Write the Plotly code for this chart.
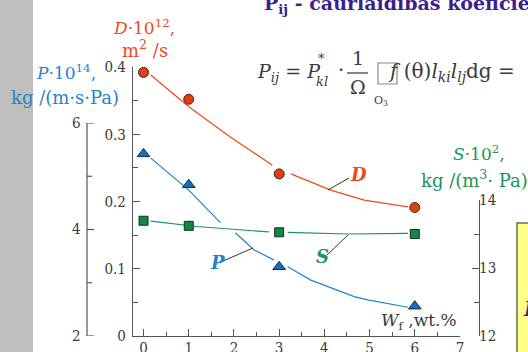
import plotly.graph_objects as go

# ---- data -------------------------------------------------------------
wf = [0, 1, 3, 6]                       # W_f, wt.%
d_vals = [0.392, 0.352, 0.241, 0.191]   # D*10^12, m^2/s
p_vals = [5.42, 4.84, 3.30, 2.56]       # P*10^14, kg/(m s Pa)
s_vals = [13.695, 13.62, 13.525, 13.50] # S*10^2, kg/(m^3 Pa)

# smoothed trend curves (None = break in the line)
d_curve_x = [0.16, 1.0, 1.92, 2.85, None, 3.26, 4.14, 4.88, 5.85]
d_curve_y = [0.388, 0.341, 0.296, 0.254, None, 0.241, 0.217, 0.202, 0.192]
p_curve_x = [0.16, 1.0, 1.70, None, 2.03, 2.44, 2.88, None, 3.19, 3.70, 4.66, 4.96, 5.85]
p_curve_y = [5.34, 4.74, 4.13, None, 3.94, 3.62, 3.43, None, 3.30, 3.05, 2.74, 2.68, 2.54]
s_curve_x = [0.16, 1.18, 2.77, None, 3.19, 4.5, 5.85]
s_curve_y = [13.69, 13.61, 13.53, None, 13.525, 13.50, 13.51]

# P axis ticks (drawn by hand on a free-standing spine)
p_major = [2, 4, 6]
p_minor = [3, 5]

W, H = 528, 352
RED, BLUE, GREEN = "#ee4a1c", "#1f84cc", "#17955a"
AXC, TXT = "#555555", "#3a3a3a"
SERIF = "DejaVu Serif"
SERIF_C = "DejaVu Serif Condensed"


def px(x):
    return x / W


def py(y):
    return 1 - y / H


fig = go.Figure()

# curves
fig.add_trace(go.Scatter(x=d_curve_x, y=d_curve_y, mode="lines", yaxis="y",
                         line=dict(color=RED, width=1.2), connectgaps=False))
fig.add_trace(go.Scatter(x=p_curve_x, y=p_curve_y, mode="lines", yaxis="y2",
                         line=dict(color=BLUE, width=1.2), connectgaps=False))
fig.add_trace(go.Scatter(x=s_curve_x, y=s_curve_y, mode="lines", yaxis="y3",
                         line=dict(color=GREEN, width=1.2), connectgaps=False))

# markers
fig.add_trace(go.Scatter(x=wf, y=d_vals, mode="markers", yaxis="y",
                         marker=dict(symbol="circle", size=10, color="#e33d10",
                                     line=dict(color="#3a2a20", width=1))))
fig.add_trace(go.Scatter(x=wf, y=p_vals, mode="markers", yaxis="y2",
                         marker=dict(symbol="triangle-up", size=11, color="#136fc0",
                                     line=dict(color="#1a2a3a", width=1))))
fig.add_trace(go.Scatter(x=wf, y=s_vals, mode="markers", yaxis="y3",
                         marker=dict(symbol="square", size=9, color="#0b8a45",
                                     line=dict(color="#1a2a20", width=1))))

tickfont = dict(family=SERIF_C, size=15, color=TXT)
y_bottom = py(336)
common = dict(showgrid=False, zeroline=False, showline=True, linewidth=1.2, linecolor=AXC,
              ticks="inside", ticklen=7, tickcolor=AXC, tickwidth=1.2, tickfont=tickfont,
              automargin=False)

fig.update_layout(
    width=W, height=H,
    margin=dict(l=0, r=0, t=0, b=0, autoexpand=False),
    paper_bgcolor="white", plot_bgcolor="rgba(0,0,0,0)",
    showlegend=False,
    font=dict(family=SERIF),
    xaxis=dict(domain=[px(133), px(460)], range=[-0.233, 7.0], anchor="y",
               dtick=1, tick0=0,
               minor=dict(dtick=0.5, ticks="inside", ticklen=4, tickcolor=AXC, tickwidth=1.2),
               ticklabelstandoff=-2, **common),
    yaxis=dict(domain=[y_bottom, py(67)], range=[0, 0.4], anchor="x",
               tickvals=[0, 0.1, 0.2, 0.3, 0.4],
               ticktext=["0", "0.1", "0.2", "0.3", "0.4"],
               minor=dict(dtick=0.05, ticks="inside", ticklen=5, tickcolor=AXC, tickwidth=1.2),
               ticklabelstandoff=3, **common),
    yaxis2=dict(domain=[y_bottom, py(123)], range=[2, 6], anchor="free", position=px(87),
                side="left", showline=False, showticklabels=False, ticks="",
                showgrid=False, zeroline=False, automargin=False),
    yaxis3=dict(domain=[y_bottom, py(200)], range=[12, 14], anchor="free", position=px(479),
                side="right", dtick=1, tick0=12,
                minor=dict(dtick=0.5, ticks="inside", ticklen=5, tickcolor=AXC, tickwidth=1.2),
                ticklabelstandoff=-4, **common),
)

shapes = []
# grey slide margin on the left
shapes.append(dict(type="rect", xref="paper", yref="paper", x0=0, x1=px(33), y0=0, y1=1,
                   fillcolor="#bfbebc", line=dict(width=0), layer="below"))
# yellow note box on the right
shapes.append(dict(type="rect", xref="paper", yref="paper", x0=px(517), x1=px(540),
                   y0=py(360), y1=py(223), fillcolor="#ffff88",
                   line=dict(color="#6a6a5a", width=1.5)))
# P axis spine and ticks, positioned through the y2 scale
shapes.append(dict(type="line", xref="paper", yref="y2", x0=px(87), x1=px(87),
                   y0=min(p_major), y1=max(p_major), line=dict(color=AXC, width=1.2)))
for v in p_major:
    shapes.append(dict(type="line", xref="paper", yref="y2", x0=px(87), x1=px(94),
                       y0=v, y1=v, line=dict(color=AXC, width=1.2)))
for v in p_minor:
    shapes.append(dict(type="line", xref="paper", yref="y2", x0=px(87), x1=px(92),
                       y0=v, y1=v, line=dict(color=AXC, width=1.2)))
# leader lines for the curve labels
for (x0, y0, x1, y1) in [(349, 178, 328, 190), (327, 255, 348, 235), (223, 261, 253, 248)]:
    shapes.append(dict(type="line", xref="paper", yref="paper", x0=px(x0), y0=py(y0),
                       x1=px(x1), y1=py(y1), line=dict(color="#333333", width=1)))
# fraction bar and the (unrendered) integral box of the formula
shapes.append(dict(type="line", xref="paper", yref="paper", x0=px(347), x1=px(368),
                   y0=py(73), y1=py(73), line=dict(color="#333333", width=1.2)))
shapes.append(dict(type="rect", xref="paper", yref="paper", x0=px(378), x1=px(397),
                   y0=py(84), y1=py(63), line=dict(color="#8a8a8a", width=1.2)))
fig.update_layout(shapes=shapes)


def ann(text, x, y, size, color, xanchor="center", yanchor="middle", family=SERIF):
    fig.add_annotation(text=text, x=px(x), y=py(y), xref="paper", yref="paper",
                       showarrow=False, xanchor=xanchor, yanchor=yanchor,
                       font=dict(family=family, size=size, color=color))


# P axis tick labels
for v in p_major:
    fig.add_annotation(text=str(v), x=px(83), y=v, xref="paper", yref="y2",
                       showarrow=False, xanchor="right", yanchor="middle",
                       font=tickfont)

# heading
ann("<b>P<sub>ij</sub> - caurlaidības koeficients</b>", 262, 5, 19, "#3c1f8c", xanchor="left")

# axis titles
ann("<i>D</i>·10<sup>12</sup>,", 144, 27, 17, RED)
ann("m<sup>2</sup> /s", 145, 49, 18, RED)
ann("<i>P</i>·10<sup>14</sup>,", 66, 72, 17, BLUE)
ann("kg /(m·s·Pa)", 65, 98, 18, BLUE)
ann("<i>S</i>·10<sup>2</sup>,", 479, 153, 17, GREEN)
ann("kg /(m<sup>3</sup>· Pa)", 474, 179, 18, GREEN)
ann("<i>W</i><sub>f</sub> ,wt.%", 419, 321, 17, TXT)

# curve labels
ann("<b><i>D</i></b>", 358, 175, 18, RED)
ann("<b><i>S</i></b>", 322, 256, 18, GREEN)
ann("<b><i>P</i></b>", 217, 262, 18, BLUE)

# formula
ann("<i>P</i><sub><i>ij</i></sub> = <i>P</i>", 255, 72, 19, TXT, xanchor="left")
ann("*", 321, 58, 13, TXT)
ann("<i>kl</i>", 322, 82, 13, TXT)
ann("·", 341, 70, 20, TXT)
ann("1", 358, 58, 19, TXT)
ann("Ω", 358, 87, 19, TXT)
ann("O<sub>3</sub>", 381, 101, 11, TXT)
ann("<i>f</i> (θ)<i>l</i><sub><i>ki</i></sub><i>l</i><sub><i>lj</i></sub>dg = ", 386, 72, 20, TXT,
    xanchor="left")

# text in the yellow note box
ann("<b><i>P</i></b>", 521, 309, 20, "#3c1f8c", xanchor="left")

fig.write_html("out.html")
